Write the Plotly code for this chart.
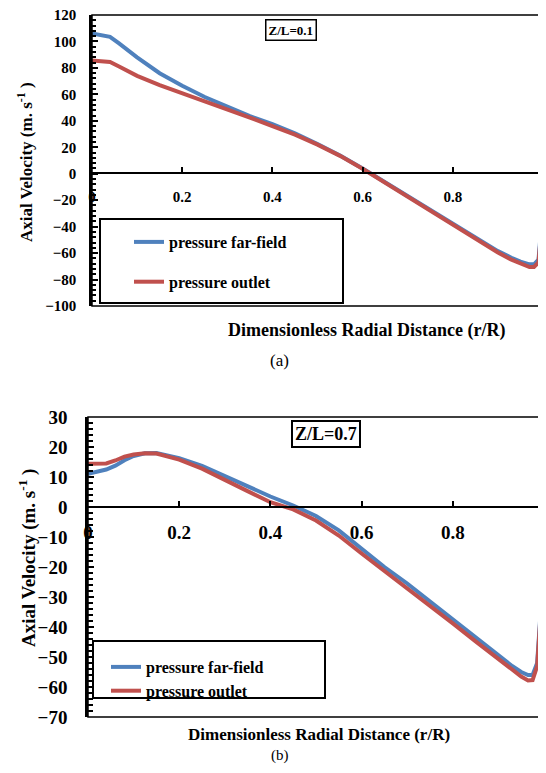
import plotly.graph_objects as go

# ---------------- data (a) Z/L=0.1 ----------------
r_a = [0, 0.02, 0.04, 0.06, 0.08, 0.1, 0.15, 0.2, 0.25, 0.3, 0.35, 0.4, 0.45, 0.5,
       0.55, 0.6, 0.65, 0.7, 0.75, 0.8, 0.85, 0.9, 0.93, 0.95, 0.97, 0.98, 0.99, 0.995, 1.0]
farfield_a = [106, 105, 103.5, 98.5, 93, 88, 76, 66.5, 58, 50.5, 43.5, 37.5, 30.5, 22.5,
              13.8, 4, -6.5, -17, -27, -37.5, -48, -58.5, -63.5, -66.5, -68.5, -68.5, -65, -45, 0]
outlet_a = [85.7, 85.2, 84.5, 81, 77.5, 74, 67, 61, 54.5, 48.5, 42.5, 36, 29.5, 22,
            13.5, 3.8, -6.8, -17.5, -27.5, -38, -49, -59.5, -65, -68, -70.5, -70.5, -67, -48, 0]

# ---------------- data (b) Z/L=0.7 ----------------
r_b = [0, 0.02, 0.04, 0.06, 0.08, 0.1, 0.125, 0.15, 0.2, 0.25, 0.3, 0.35, 0.4, 0.45,
       0.5, 0.55, 0.6, 0.65, 0.7, 0.75, 0.8, 0.85, 0.9, 0.93, 0.95, 0.965, 0.975, 0.985, 0.993, 1.0]
farfield_b = [11.1, 11.8, 12.5, 13.8, 15.6, 17.0, 17.9, 18.0, 16.3, 13.7, 10.3, 6.6, 3.5, 0.5,
              -3, -7.8, -14, -20, -25.5, -31.5, -37.5, -43.5, -49.5, -53, -55, -56, -56, -52, -34, 0]
outlet_b = [14.4, 14.4, 14.5, 15.5, 16.8, 17.5, 17.9, 17.8, 15.8, 12.8, 9.2, 5.3, 1.6, -0.8,
            -4.5, -9.5, -15.5, -21.3, -26.8, -32.8, -38.8, -44.8, -50.8, -54.5, -56.5, -57.8, -57.7, -53, -35, 0]

x_ticks = [0, 0.2, 0.4, 0.6, 0.8, 1]
x_ticktext = ["0", "0.2", "0.4", "0.6", "0.8", "1"]
series_names = ["pressure far-field", "pressure outlet"]
colors = ["#4F81BD", "#C0504D"]

# page body has an 8px margin: figure is drawn offset by (8, 8)
OFF = 8
W, H = 546 - OFF, 773 - 2 * OFF
FONT = "Liberation Serif"


def px(x):
    return (x - OFF) / W


def py(y):
    return 1 - (y - OFF) / H


fig = go.Figure()
for ys, name, c in zip([farfield_a, outlet_a], series_names, colors):
    fig.add_trace(go.Scatter(x=r_a, y=ys, mode="lines", name=name, xaxis="x", yaxis="y",
                             line=dict(color=c, width=4), legend="legend", legendgroup=name + "a"))
for ys, name, c in zip([farfield_b, outlet_b], series_names, colors):
    fig.add_trace(go.Scatter(x=r_b, y=ys, mode="lines", name=name, xaxis="x2", yaxis="y2",
                             line=dict(color=c, width=4), legend="legend2", legendgroup=name + "b"))

tickfont_a = dict(family=FONT, size=15, color="black", weight="bold")
tickfont_b = dict(family=FONT, size=19, color="black", weight="bold")

common = dict(showgrid=False, zeroline=False, showline=True, linecolor="black",
              tickcolor="black", ticks="inside", automargin=False, ticklabeloverflow="allow")

fig.update_layout(
    width=W, height=H, margin=dict(l=0, r=0, t=0, b=0),
    paper_bgcolor="white", plot_bgcolor="white",
    xaxis=dict(domain=[px(92), px(543)], range=[0, 1], anchor="free", position=py(173.3),
               tickvals=x_ticks, ticktext=x_ticktext, linewidth=2, ticklen=5,
               tickwidth=2, tickfont=tickfont_a, ticklabelstandoff=10, **common),
    yaxis=dict(domain=[py(306), py(15)], range=[-100, 120], anchor="x", dtick=20,
               linewidth=2.5, ticklen=6, tickwidth=2, tickfont=tickfont_a,
               ticklabelstandoff=10,
               minor=dict(ticks="inside", dtick=4, ticklen=4, tickwidth=1.5, tickcolor="black"),
               **common),
    xaxis2=dict(domain=[px(88), px(544)], range=[0, 1], anchor="free", position=py(507),
                tickvals=x_ticks, ticktext=x_ticktext, linewidth=2, ticklen=5,
                tickwidth=2, tickfont=tickfont_b, ticklabelstandoff=8, **common),
    yaxis2=dict(domain=[py(717), py(417)], range=[-70, 30], anchor="x2", dtick=10,
                linewidth=2.5, ticklen=6, tickwidth=2, tickfont=tickfont_b,
                ticklabelstandoff=14,
                minor=dict(ticks="inside", dtick=2, ticklen=5, tickwidth=1.5, tickcolor="black"),
                **common),
    legend=dict(x=px(129), y=py(225), xanchor="left", yanchor="top", bgcolor="rgba(0,0,0,0)",
                font=dict(family=FONT, size=16, color="black", weight="bold"), tracegroupgap=16,
                itemwidth=30),
    legend2=dict(x=px(106), y=py(650), xanchor="left", yanchor="top", bgcolor="rgba(0,0,0,0)",
                 font=dict(family=FONT, size=16, color="black", weight="bold"), tracegroupgap=0,
                 itemwidth=30),
    showlegend=True,
)

shapes = [
    # plot frames
    dict(type="rect", xref="x domain", yref="y domain", x0=0, x1=1, y0=0, y1=1,
         line=dict(color="black", width=1.5)),
    dict(type="rect", xref="x2 domain", yref="y2 domain", x0=0, x1=1, y0=0, y1=1,
         line=dict(color="black", width=1.5)),
    # legend boxes
    dict(type="rect", xref="paper", yref="paper", x0=px(100), x1=px(343), y0=py(303), y1=py(219),
         line=dict(color="black", width=2)),
    dict(type="rect", xref="paper", yref="paper", x0=px(93), x1=px(325), y0=py(698), y1=py(641),
         line=dict(color="black", width=2)),
]
fig.update_layout(shapes=shapes)

ann = [
    dict(text="<b>Z/L=0.1</b>", x=px(291), y=py(30), font=dict(family=FONT, size=13, color="black"),
         bordercolor="black", borderwidth=1.5, borderpad=2, bgcolor="white"),
    dict(text="<b>Z/L=0.7</b>", x=px(326), y=py(434), font=dict(family=FONT, size=18, color="black"),
         bordercolor="black", borderwidth=2, borderpad=2, bgcolor="white"),
    dict(text="<b>Axial Velocity (m. s<sup>-1</sup> )</b>", x=px(25), y=py(162), textangle=-90,
         font=dict(family=FONT, size=17, color="black")),
    dict(text="<b>Axial Velocity (m. s<sup>-1</sup> )</b>", x=px(27), y=py(558), textangle=-90,
         font=dict(family=FONT, size=19, color="black")),
    dict(text="<b>Dimensionless Radial Distance (r/R)</b>", x=px(367), y=py(330),
         font=dict(family=FONT, size=18, color="black")),
    dict(text="<b>Dimensionless Radial Distance (r/R)</b>", x=px(319), y=py(734),
         font=dict(family=FONT, size=17, color="black"), borderpad=0),
    dict(text="(a)", x=px(279), y=py(360), font=dict(family=FONT, size=17, color="black")),
    dict(text="(b)", x=px(280), y=py(755), font=dict(family=FONT, size=15, color="black"),
         borderpad=0),
]
for a in ann:
    a.update(xref="paper", yref="paper", showarrow=False, xanchor="center", yanchor="middle")
fig.update_layout(annotations=ann)

fig.write_html("out.html")
